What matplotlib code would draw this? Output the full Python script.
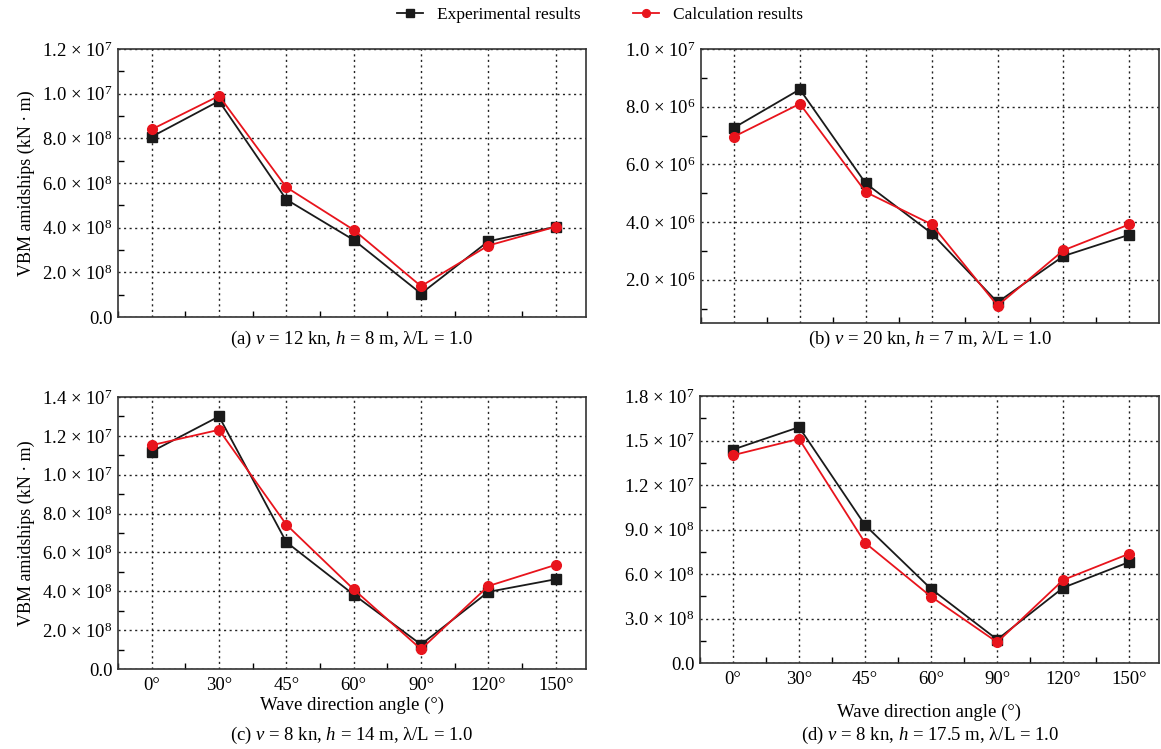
import matplotlib
matplotlib.use("Agg")
import matplotlib.pyplot as plt
from matplotlib.ticker import MultipleLocator, FixedLocator

plt.rcParams['font.family'] = ['Liberation Serif', 'DejaVu Serif']
plt.rcParams['mathtext.fontset'] = 'custom'
plt.rcParams['mathtext.rm'] = 'Liberation Serif'
plt.rcParams['mathtext.it'] = 'Liberation Serif:italic'
plt.rcParams['mathtext.bf'] = 'Liberation Serif:bold'

angles = ['0°', '30°', '45°', '60°', '90°', '120°', '150°']

# VBM values, in units of 1e6 kN·m
exp_a = [8.07, 9.67, 5.26, 3.45, 1.05, 3.39, 4.04]
calc_a = [8.40, 9.90, 5.81, 3.90, 1.38, 3.20, 4.04]
exp_b = [7.27, 8.60, 5.34, 3.61, 1.22, 2.82, 3.56]
calc_b = [6.96, 8.10, 5.04, 3.92, 1.10, 3.02, 3.92]
exp_c = [11.19, 13.00, 6.53, 3.83, 1.26, 3.97, 4.62]
calc_c = [11.52, 12.31, 7.43, 4.10, 1.02, 4.27, 5.36]
exp_d = [14.39, 15.90, 9.29, 4.99, 1.58, 5.08, 6.81]
calc_d = [14.01, 15.11, 8.10, 4.47, 1.40, 5.60, 7.37]

captions = [
    r'(a) $v$ = 12 kn, $h$ = 8 m, λ/L = 1.0',
    r'(b) $v$ = 20 kn, $h$ = 7 m, λ/L = 1.0',
    r'(c) $v$ = 8 kn, $h$ = 14 m, λ/L = 1.0',
    r'(d) $v$ = 8 kn, $h$ = 17.5 m, λ/L = 1.0',
]


def sci(m, e):
    return '%s × 10$^{%d}$' % (m, e)


# tick labels as printed on each panel
yticks_a = [0, 2, 4, 6, 8, 10, 12]
ylabels_a = ['0.0', sci('2.0', 8), sci('4.0', 8), sci('6.0', 8),
             sci('8.0', 8), sci('1.0', 7), sci('1.2', 7)]
yticks_b = [2, 4, 6, 8, 10]
ylabels_b = [sci('2.0', 6), sci('4.0', 6), sci('6.0', 6), sci('8.0', 6), sci('1.0', 7)]
yticks_c = [0, 2, 4, 6, 8, 10, 12, 14]
ylabels_c = ['0.0', sci('2.0', 8), sci('4.0', 8), sci('6.0', 8),
             sci('8.0', 8), sci('1.0', 7), sci('1.2', 7), sci('1.4', 7)]
yticks_d = [0, 3, 6, 9, 12, 15, 18]
ylabels_d = ['0.0', sci('3.0', 8), sci('6.0', 8), sci('9.0', 8),
             sci('1.2', 7), sci('1.5', 7), sci('1.8', 7)]

W, H = 1161, 749
fig = plt.figure(figsize=(W / 100, H / 100), dpi=100)


def px_axes(left, top, right, bottom):
    return fig.add_axes([left / W, 1 - bottom / H, (right - left) / W, (bottom - top) / H])


# axes, data, y range, ticks, minor step, x label padding (None = no x labels)
panels = [
    (px_axes(118, 49, 586, 317), exp_a, calc_a, (0, 12), yticks_a, ylabels_a, 1, None),
    (px_axes(701, 49, 1159, 323), exp_b, calc_b, (0.5, 10), yticks_b, ylabels_b, 1, None),
    (px_axes(118, 397, 586, 669), exp_c, calc_c, (0, 14), yticks_c, ylabels_c, 1, 2),
    (px_axes(700, 396, 1159, 663), exp_d, calc_d, (0, 18), yticks_d, ylabels_d, 1.5, 11),
]

x = list(range(len(angles)))
for i, (ax, e, c, ylim, yt, yl, minor, xpad) in enumerate(panels):
    ax.plot(x, e, color='#1a1a1a', lw=1.3, marker='s', ms=6.5, label='Experimental results', zorder=3)
    ax.plot(x, c, color='#e8141c', lw=1.3, marker='o', ms=7, label='Calculation results', zorder=4)
    ax.set_xlim(-0.5, 6.45)
    ax.set_ylim(*ylim)
    ax.set_xticks(x)
    ax.xaxis.set_minor_locator(FixedLocator([k + 0.5 for k in range(-1, 7)]))
    ax.set_yticks(yt)
    ax.set_yticklabels(yl)
    ax.yaxis.set_minor_locator(MultipleLocator(minor))
    if xpad is not None:
        ax.set_xticklabels(angles)
        ax.set_xlabel('Wave direction angle (°)', fontsize=13.5, labelpad=xpad)
    else:
        ax.set_xticklabels([])
    ax.grid(True, which='major', color='#222222', ls=(0, (1.5, 2.5)), lw=1.0)
    ax.tick_params(which='both', direction='in', top=False, right=False, labelsize=13.5)
    ax.tick_params(axis='y', which='major', length=0, pad=4)
    ax.tick_params(axis='x', which='major', length=0, pad=6)
    ax.tick_params(which='minor', length=4, width=1)
    for s in ax.spines.values():
        s.set_linewidth(1.2)
        s.set_color('#333333')
    if i in (0, 2):
        ax.set_ylabel('VBM amidships (kN · m)', fontsize=13, labelpad=5)

fig.text(352 / W, 1 - 339 / H, captions[0], ha='center', va='center', fontsize=13.5)
fig.text(930 / W, 1 - 339 / H, captions[1], ha='center', va='center', fontsize=13.5)
fig.text(352 / W, 1 - 735 / H, captions[2], ha='center', va='center', fontsize=13.5)
fig.text(930 / W, 1 - 735 / H, captions[3], ha='center', va='center', fontsize=13.5)

handles, labels = panels[0][0].get_legend_handles_labels()
fig.legend(handles, labels, loc='center', bbox_to_anchor=(600 / W, 1 - 15 / H), ncol=2,
           frameon=False, fontsize=12.5, handlelength=1.5, handletextpad=0.8,
           columnspacing=3.0, markerscale=0.8)

fig.savefig('out.png', dpi=100)
